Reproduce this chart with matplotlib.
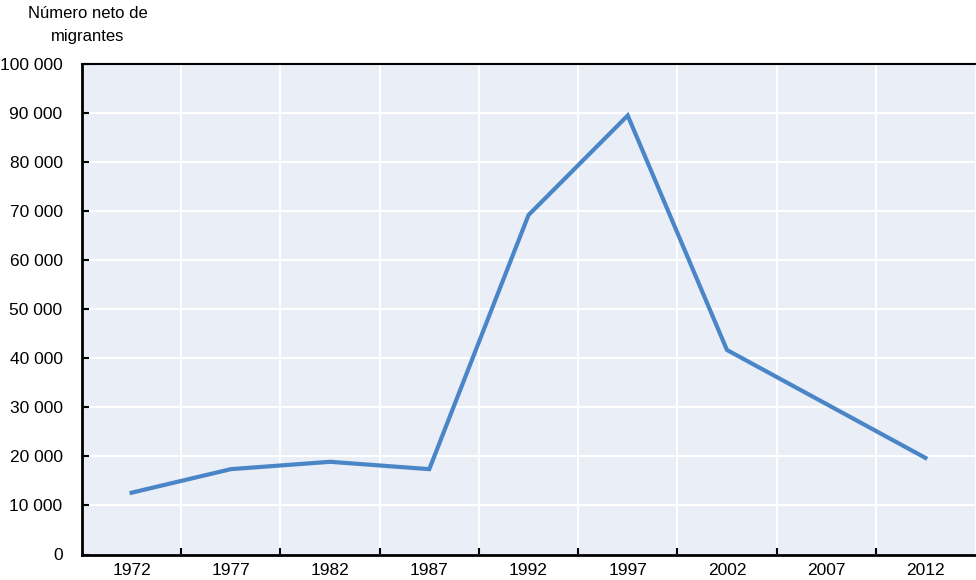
import numpy as np
import matplotlib.pyplot as plt
import matplotlib
from matplotlib.ticker import FuncFormatter, FixedLocator

matplotlib.rcParams['font.family'] = ['Liberation Sans Narrow', 'Liberation Sans', 'DejaVu Sans']
matplotlib.rcParams['font.size'] = 12

# datos
years = [1972, 1977, 1982, 1987, 1992, 1997, 2002, 2007, 2012]
migrantes = [12600, 17400, 18900, 17400, 69200, 89500, 41700, 30700, 19700]
ylabel_txt = "Número neto de\nmigrantes"

fig = plt.figure(figsize=(9.76, 5.8), dpi=100)
ax = fig.add_axes([82/976, (580-554.5)/580, (975-82)/976, (554.5-64)/580])
ax.set_facecolor('#E9EEF7')

ax.plot(years, migrantes, color='#4A86C7', lw=3, solid_joinstyle='miter', zorder=3)

ax.set_xlim(1969.5, 2014.5)
ax.set_ylim(0, 100000)
ax.set_yticks(np.arange(0, 100001, 10000))
ax.yaxis.set_major_formatter(FuncFormatter(lambda v, p: f"{int(v):,}".replace(",", " ")))
ax.set_xticks(years)
ax.set_xticklabels([str(y) for y in years])
ax.xaxis.set_minor_locator(FixedLocator(np.arange(1974.5, 2014, 5)))

ax.grid(True, which='major', axis='y', color='white', lw=1.5, zorder=1)
ax.grid(True, which='minor', axis='x', color='white', lw=1.5, zorder=1)
ax.set_axisbelow(True)

ax.tick_params(axis='x', which='major', length=0, pad=6, labelsize=12.5)
ax.tick_params(axis='x', which='minor', direction='in', length=5, width=1.5, color='black')
ax.tick_params(axis='y', direction='in', length=5, width=1.5, pad=14, labelsize=12.5)

for s in ['left', 'bottom']:
    ax.spines[s].set_linewidth(2)
    ax.spines[s].set_color('black')
ax.spines['top'].set_linewidth(1.5)
ax.spines['top'].set_color('black')
ax.spines['right'].set_visible(False)

fig.text(88/976, 1 - 25/580, ylabel_txt, ha='center', va='center', fontsize=12, linespacing=1.6)

fig.savefig('out.png', dpi=100)
